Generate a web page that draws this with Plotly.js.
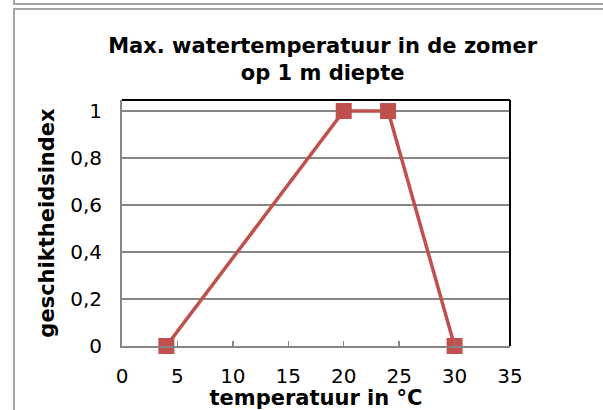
<!DOCTYPE html>
<html>
<head>
<meta charset="utf-8">
<script src="https://cdn.plot.ly/plotly-3.0.1.min.js"></script>
<style>
  html, body { margin: 0; padding: 0; background: #fff; }
  #wrap { position: relative; width: 603px; height: 410px; overflow: hidden; }
  #topbox { position: absolute; left: 13px; top: -10px; width: 620px; height: 11px; border: 2px solid #a6a6a6; box-sizing: content-box; }
  #chartbox { position: absolute; left: 13px; top: 8px; width: 620px; height: 420px; border: 2px solid #a6a6a6; }
  #chart { position: absolute; left: 0; top: 0; width: 603px; height: 410px; }
</style>
</head>
<body>
<div id="wrap">
  <div id="topbox"></div>
  <div id="chartbox"></div>
  <div id="chart"></div>
</div>
<script>
const temperature = [4, 20, 24, 30];
const suitability = [0, 1, 1, 0];
const xTickVals = [0, 5, 10, 15, 20, 25, 30, 35];
const yTickVals = [0, 0.2, 0.4, 0.6, 0.8, 1];
const yTickText = ['0', '0,2', '0,4', '0,6', '0,8', '1'];
const chartTitle = 'Max. watertemperatuur in de zomer<br>op 1 m diepte';
const xTitle = 'temperatuur in °C';
const yTitle = 'geschiktheidsindex';

const red = '#C0504D';
const font = 'DejaVu Sans, Verdana, sans-serif';

const trace = {
  x: temperature, y: suitability, type: 'scatter', mode: 'lines+markers',
  line: { color: red, width: 3.5 },
  marker: { symbol: 'square', size: 16, color: red },
  cliponaxis: false, hoverinfo: 'skip'
};

const layout = {
  width: 603, height: 410,
  margin: { l: 122, r: 93, t: 100, b: 64 },
  paper_bgcolor: 'rgba(0,0,0,0)', plot_bgcolor: '#fff',
  font: { family: font, color: '#000', size: 20 },
  showlegend: false,
  title: {
    text: chartTitle, font: { family: font, size: 21, weight: 'bold', color: '#000' },
    xref: 'container', yref: 'container', x: 0.535, y: 0.871, xanchor: 'center', yanchor: 'middle'
  },
  xaxis: {
    range: [0, 35], tickvals: xTickVals, ticks: 'inside', ticklen: 5, tickcolor: '#868686', tickwidth: 1.5,
    showgrid: false, zeroline: false, showline: true, linecolor: '#868686', linewidth: 2,
    tickfont: { size: 20 }, ticklabelstandoff: 11,
    title: { text: xTitle, font: { size: 21, weight: 'bold' }, standoff: 0 }
  },
  yaxis: {
    range: [0, 1.047], tickvals: yTickVals, ticktext: yTickText, ticks: '',
    showgrid: true, gridcolor: '#868686', gridwidth: 1.5, zeroline: false,
    showline: true, linecolor: '#868686', linewidth: 2, ticklabelstandoff: 14,
    tickfont: { size: 20 },
    title: { text: yTitle, font: { size: 21, weight: 'bold' }, standoff: 10 }
  },
  shapes: [
    { type: 'line', xref: 'paper', yref: 'paper', x0: 0, x1: 1, y0: 1, y1: 1, line: { color: '#000', width: 2 } },
    { type: 'line', xref: 'paper', yref: 'paper', x0: 1, x1: 1, y0: 0, y1: 1, line: { color: '#000', width: 2 } }
  ]
};

Plotly.newPlot('chart', [trace], layout, { displayModeBar: false, staticPlot: true });
</script>
</body>
</html>
